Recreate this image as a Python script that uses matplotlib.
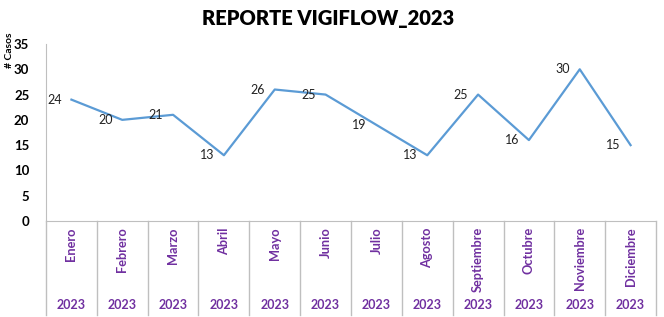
import matplotlib.pyplot as plt
import matplotlib.transforms as mtransforms

meses = ['Enero', 'Febrero', 'Marzo', 'Abril', 'Mayo', 'Junio', 'Julio',
         'Agosto', 'Septiembre', 'Octubre', 'Noviembre', 'Diciembre']
anio = '2023'
casos = [24, 20, 21, 13, 26, 25, 19, 13, 25, 16, 30, 15]

plt.rcParams['font.family'] = ['Lato', 'DejaVu Sans']
morado = '#7030A0'
gris = '#BFBFBF'

fig = plt.figure(figsize=(6.64, 3.17), dpi=100)
ax = fig.add_axes([46 / 664, 96 / 317, 610 / 664, 177 / 317])

x = list(range(len(meses)))
ax.plot(x, casos, color='#5B9BD5', lw=1.6)
for i, v in enumerate(casos):
    ax.annotate(str(v), (i, v), xytext=(-7, 0), textcoords='offset points',
                ha='right', va='center', fontsize=9, color='#222222')

ax.set_xlim(-0.5, len(meses) - 0.5)
ax.set_ylim(0, 35)
ax.set_yticks(range(0, 36, 5))
ax.tick_params(axis='y', length=0, pad=12, labelsize=9.5)
for t in ax.get_yticklabels():
    t.set_fontweight('bold')
ax.set_xticks([])

for s in ['top', 'right']:
    ax.spines[s].set_visible(False)
for s in ['left', 'bottom']:
    ax.spines[s].set_color(gris)

trans = mtransforms.blended_transform_factory(ax.transData, ax.transAxes)
for i, m in enumerate(meses):
    ax.text(i, -0.035, m, transform=trans, rotation=90, ha='center', va='top',
            fontsize=9.2, fontweight='bold', color=morado)
    ax.text(i, -0.475, anio, transform=trans, ha='center', va='center',
            fontsize=9, fontweight='bold', color=morado)
for b in range(len(meses) + 1):
    ax.plot([b - 0.5, b - 0.5], [0, -0.53], transform=trans, color=gris,
            lw=1, clip_on=False)

fig.text(10 / 664, 1 - 50 / 317, '# Casos', rotation=90, ha='center',
         va='center', fontsize=7.5, fontweight='bold')
fig.text(328 / 664, 1 - 18 / 317, 'REPORTE VIGIFLOW_2023', ha='center',
         va='center', fontsize=14.5, fontweight='heavy')

fig.savefig('out.png', dpi=100)
